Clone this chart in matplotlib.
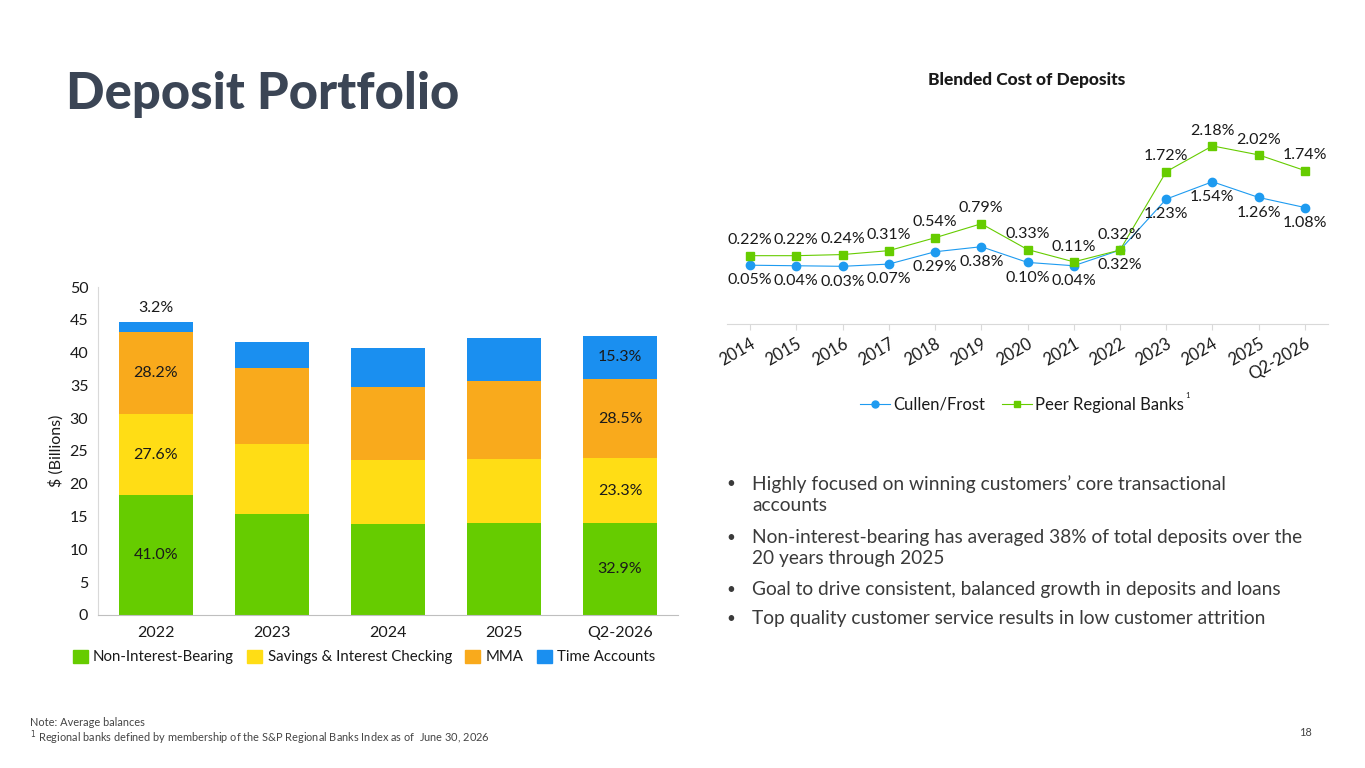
import matplotlib
matplotlib.use("Agg")
from matplotlib import pyplot as plt
from matplotlib.patches import Patch
from matplotlib.lines import Line2D

plt.rcParams['font.family'] = ['Lato', 'DejaVu Sans']

# deposit mix, $ billions (average balances)
years = ['2022', '2023', '2024', '2025', 'Q2-2026']
non_interest = [18.3, 15.4, 13.9, 14.0, 14.0]
savings = [12.3, 10.7, 9.7, 9.8, 9.9]
mma = [12.6, 11.6, 11.2, 11.9, 12.1]
time_acc = [1.5, 3.9, 5.9, 6.5, 6.6]
pct_2022 = [41.0, 27.6, 28.2, 3.2]
pct_q2 = [32.9, 23.3, 28.5, 15.3]

# blended cost of deposits, %
cost_years = ['2014', '2015', '2016', '2017', '2018', '2019', '2020',
              '2021', '2022', '2023', '2024', '2025', 'Q2-2026']
cullen = [0.05, 0.04, 0.03, 0.07, 0.29, 0.38, 0.10, 0.04, 0.32, 1.23, 1.54, 1.26, 1.08]
peers = [0.22, 0.22, 0.24, 0.31, 0.54, 0.79, 0.33, 0.11, 0.32, 1.72, 2.18, 2.02, 1.74]

bullets = [
    "Highly focused on winning customers\u2019 core transactional\naccounts",
    "Non-interest-bearing has averaged 38% of total deposits over the\n20 years through 2025",
    "Goal to drive consistent, balanced growth in deposits and loans",
    "Top quality customer service results in low customer attrition",
]

GREEN = '#66CC00'
YELLOW = '#FFDD15'
ORANGE = '#F9AA1C'
BLUE = '#1A8FF0'
LINE_BLUE = '#1E9BF0'
TXT = '#1a1a1a'
BODY = '#3a3a3a'

fig = plt.figure(figsize=(13.65, 7.68), dpi=100)

fig.text(66 / 1365, 1 - 94 / 768, 'Deposit Portfolio', fontsize=36.5, fontweight='black',
         color='#3B4555', va='center', ha='left')

# ---- stacked bars
ax = fig.add_axes([98 / 1365, 1 - 615 / 768, 580 / 1365, 328 / 768])
x = range(len(years))
w = 0.64
b1 = non_interest
b2 = [a + b for a, b in zip(b1, savings)]
b3 = [a + b for a, b in zip(b2, mma)]
ax.bar(x, non_interest, w, color=GREEN)
ax.bar(x, savings, w, bottom=b1, color=YELLOW)
ax.bar(x, mma, w, bottom=b2, color=ORANGE)
ax.bar(x, time_acc, w, bottom=b3, color=BLUE)

ax.set_xlim(-0.5, 4.5)
ax.set_ylim(0, 50)
ax.set_yticks(range(0, 51, 5))
ax.set_xticks(list(x))
ax.set_xticklabels(years)
for s in ['top', 'right']:
    ax.spines[s].set_visible(False)
ax.spines['left'].set_color('#d9d9d9')
ax.spines['bottom'].set_color('#bfbfbf')
ax.tick_params(axis='y', length=0, labelsize=11.5, colors=TXT, pad=7)
ax.tick_params(axis='x', length=0, labelsize=11.5, colors=TXT, pad=8)
ax.set_ylabel('$ (Billions)', fontsize=11.5, color=TXT, labelpad=4)

# percentage labels on first and last bar
for idx, pcts in [(0, pct_2022), (4, pct_q2)]:
    segs = [non_interest[idx], savings[idx], mma[idx], time_acc[idx]]
    bottom = 0
    for k, (seg, p) in enumerate(zip(segs, pcts)):
        if idx == 0 and k == 3:
            ax.text(idx, bottom + seg + 1.0, f'{p:.1f}%', ha='center', va='bottom',
                    fontsize=11.5, color=TXT)
        else:
            ax.text(idx, bottom + seg / 2, f'{p:.1f}%', ha='center', va='center',
                    fontsize=11.5, color=TXT)
        bottom += seg

handles = [Patch(color=c) for c in [GREEN, YELLOW, ORANGE, BLUE]]
labels = ['Non-Interest-Bearing', 'Savings & Interest Checking', 'MMA', 'Time Accounts']
fig.legend(handles, labels, loc='center', bbox_to_anchor=(364 / 1365, 1 - 657 / 768),
           ncol=4, frameon=False, fontsize=10.8, handlelength=1.0, handleheight=1.0,
           handletextpad=0.35, columnspacing=0.9, labelcolor=TXT)

# ---- line chart
ax2 = fig.add_axes([727 / 1365, 1 - 324 / 768, 601 / 1365, 196 / 768])
xi = list(range(len(cost_years)))
ax2.plot(xi, cullen, color=LINE_BLUE, lw=0.8, marker='o', ms=6, label='Cullen/Frost')
ax2.plot(xi, peers, color=GREEN, lw=0.8, marker='s', ms=6, label='Peer Regional Banks')
ax2.set_xlim(-0.5, 12.5)
ax2.set_ylim(-1.0, 2.5)
ax2.set_yticks([])
ax2.set_xticks(xi)
ax2.set_xticklabels(cost_years, rotation=30, ha='right', rotation_mode='anchor')
ax2.tick_params(axis='x', length=4, color='#d9d9d9', labelsize=12, colors=TXT, pad=4)
for s in ['top', 'right', 'left']:
    ax2.spines[s].set_visible(False)
ax2.spines['bottom'].set_color('#d9d9d9')

for i in xi:
    ax2.annotate(f'{peers[i]:.2f}%', (i, peers[i]), xytext=(0, 11), textcoords='offset points',
                 ha='center', va='center', fontsize=11.5, color=TXT)
    ax2.annotate(f'{cullen[i]:.2f}%', (i, cullen[i]), xytext=(0, -11), textcoords='offset points',
                 ha='center', va='center', fontsize=11.5, color=TXT)

fig.text(1027 / 1365, 1 - 80 / 768, 'Blended Cost of Deposits', ha='center', va='center',
         fontsize=12.5, fontweight='black', color=TXT)

lh = [Line2D([], [], color=LINE_BLUE, lw=0.8, marker='o', ms=5),
      Line2D([], [], color=GREEN, lw=0.8, marker='s', ms=5)]
fig.legend(lh, ['Cullen/Frost', 'Peer Regional Banks'], loc='center',
           bbox_to_anchor=(1022 / 1365, 1 - 405 / 768), ncol=2, frameon=False,
           fontsize=12, handlelength=1.8, handletextpad=0.2, columnspacing=1.0,
           labelcolor=TXT)
fig.text(1188 / 1365, 1 - 395 / 768, '1', fontsize=5.5, color=TXT, ha='center', va='center')

# ---- bullets
ys = [484, 538, 590, 619]
for y, b in zip(ys, bullets):
    fig.text(731 / 1365, 1 - y / 768, '\u2022', fontsize=11, color=BODY, va='center', ha='center')
    fig.text(752 / 1365, 1 - (y - 9) / 768, b, fontsize=13.8, color=BODY, va='top', ha='left',
             linespacing=1.3)

# ---- footnotes
fig.text(30 / 1365, 1 - 723 / 768, 'Note: Average balances', fontsize=7.9, color='#444444',
         va='center')
fig.text(30 / 1365, 1 - 738 / 768,
         '$^{1}$ Regional banks defined by membership of the S&P Regional Banks Index as of  June 30, 2026',
         fontsize=7.9, color='#444444', va='center')
fig.text(1305 / 1365, 1 - 732 / 768, '18', fontsize=7.9, color='#444444', va='center', ha='center')

fig.savefig('out.png', dpi=100)
